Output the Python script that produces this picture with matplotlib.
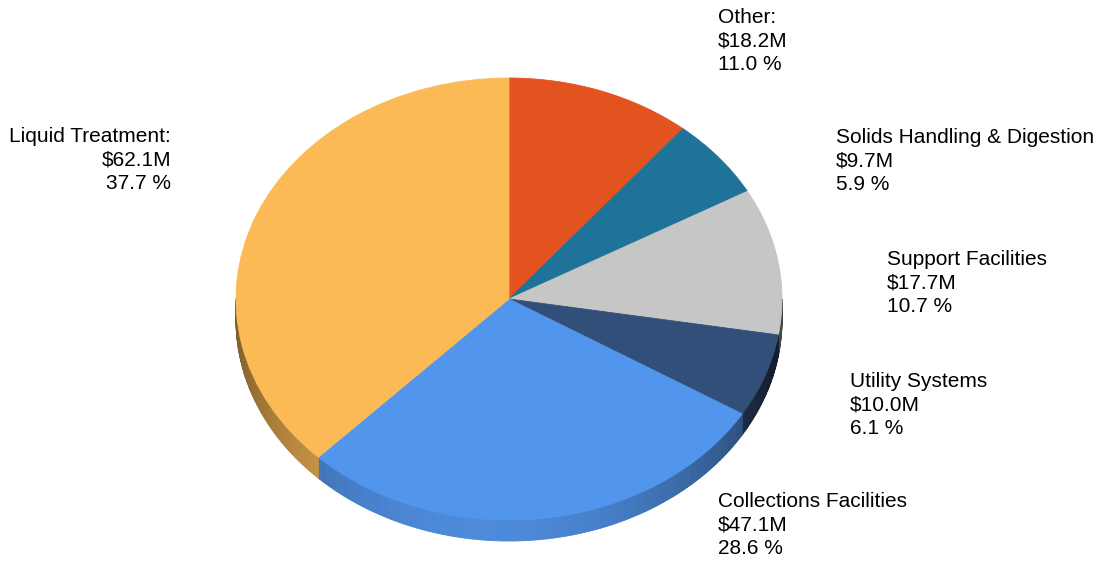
import numpy as np
import matplotlib.pyplot as plt
from matplotlib.collections import PolyCollection
from matplotlib.colors import to_rgb

# Daten (im Uhrzeigersinn ab 12 Uhr)
categories = ['Other:', 'Solids Handling & Digestion', 'Support Facilities',
              'Utility Systems', 'Collections Facilities', 'Liquid Treatment:']
amounts = [18.2, 9.7, 17.7, 10.0, 47.1, 62.1]        # Mio. $
percents = [11.0, 5.9, 10.7, 6.1, 28.6, 37.7]         # Anteil in %
colors = ['#E2531F', '#1F7399', '#C6C6C6', '#324F7A', '#5295EC', '#FBBA55']

# Position der Beschriftungen in Pixeln (x, y oben) und Ausrichtung
label_pos = [(718, 8, 'left'), (836, 128, 'left'), (887, 250, 'left'),
             (850, 372, 'left'), (718, 492, 'left'), (171, 127, 'right')]

W, H = 1101, 563
cx, cy, rx, ry = 509, 299, 273, 221          # Ellipse der Oberseite in Pixeln
depth = 21 / ry                               # Tiefe der Seitenwand in Radius-Einheiten

fig = plt.figure(figsize=(W / 100, H / 100), dpi=100)
ax = fig.add_axes([0, 0, 1, 1])

wedges, _ = ax.pie(percents, colors=colors, startangle=90, counterclock=False, radius=1)
for w in wedges:
    w.set_edgecolor(w.get_facecolor())
    w.set_linewidth(0.6)
    w.set_zorder(2)

# Seitenwand: nur der vordere Teil (Winkel -180..0) ist sichtbar
fr = np.array(percents) / np.sum(percents)
edges = 90 - 360 * np.concatenate([[0], np.cumsum(fr)])
polys, cols = [], []
for i in range(len(fr)):
    lo, hi = max(edges[i + 1], -180), min(edges[i], 0)
    if lo >= hi:
        continue
    ts = np.linspace(lo, hi, int((hi - lo) / 0.5) + 2)
    for t0, t1 in zip(ts[:-1], ts[1:]):
        r0, r1 = np.radians(t0), np.radians(t1)
        x0, y0, x1, y1 = np.cos(r0), np.sin(r0), np.cos(r1), np.sin(r1)
        polys.append([(x0, y0), (x1, y1), (x1, y1 - depth), (x0, y0 - depth)])
        tm = np.radians((t0 + t1) / 2)
        f = 0.42 + 0.5 * abs(np.sin(tm)) ** 1.5 - 0.08 * np.cos(tm)
        cols.append(np.clip(np.array(to_rgb(colors[i])) * f, 0, 1))
pc = PolyCollection(polys, facecolors=cols, edgecolors=cols, linewidths=0.6, zorder=1)
ax.add_collection(pc)

ax.set_xlim(-cx / rx, (W - cx) / rx)
ax.set_ylim((cy - H) / ry, cy / ry)
ax.set_aspect('auto')
ax.axis('off')

for cat, amt, pct, (px, py, ha) in zip(categories, amounts, percents, label_pos):
    fig.text(px / W, 1 - py / H, f'{cat}\n${amt:.1f}M\n{pct:.1f} %',
             ha=ha, va='top', multialignment=ha, fontsize=15,
             family='Liberation Sans', linespacing=1.3, color='#000000')

fig.savefig('out.png', dpi=100)
